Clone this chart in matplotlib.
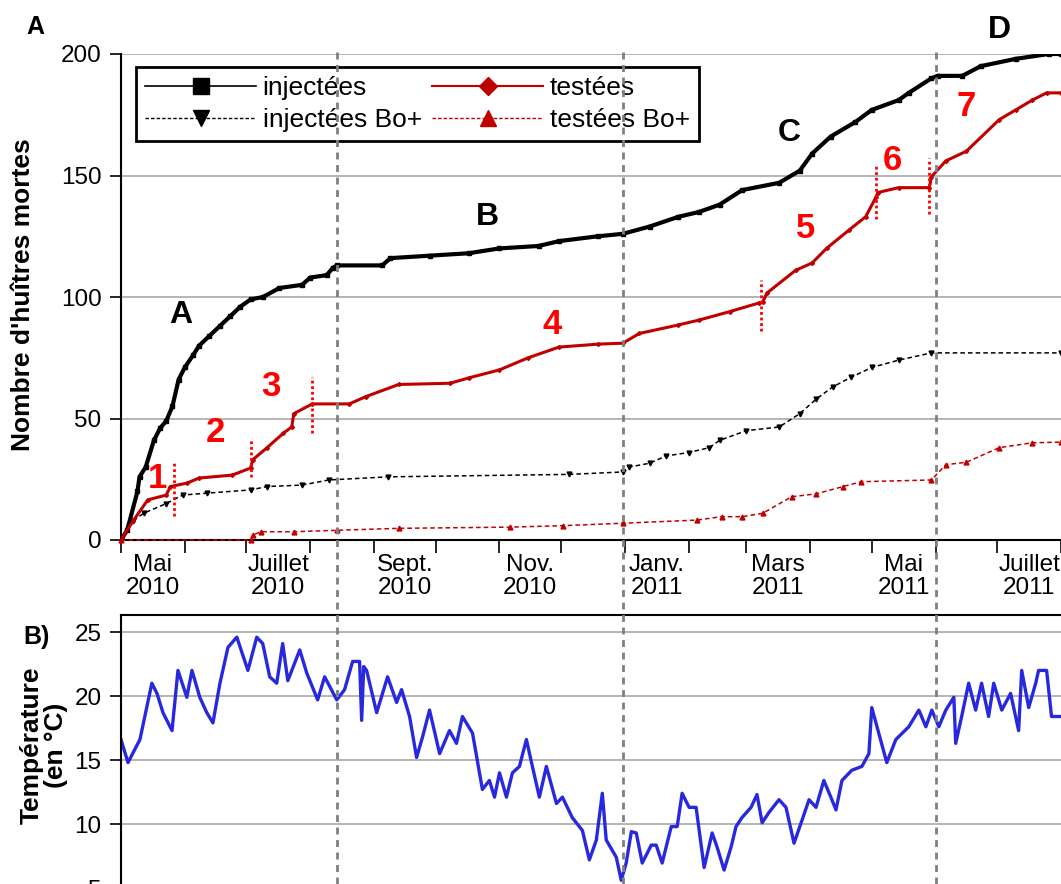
import pandas as pd
import matplotlib
matplotlib.use("Agg")
import matplotlib.pyplot as plt
import matplotlib.dates as mdates
from matplotlib.lines import Line2D
from matplotlib.ticker import FixedLocator, NullFormatter
from matplotlib.transforms import blended_transform_factory

plt.rcParams['font.family'] = ['Liberation Sans', 'DejaVu Sans']

START = pd.Timestamp('2010-05-01')
END = pd.Timestamp('2011-08-01')

# cumulative dead oysters (days since 1 May 2010 -> count)
inj_days = [0, 3, 8, 9, 12, 16, 19, 22, 25, 28, 31, 35, 38, 43, 48, 53, 58, 63,
            69, 77, 88, 92, 100, 103, 105, 127, 131, 150, 169, 184, 203, 213,
            232, 244, 257, 271, 281, 291, 302, 320, 330, 336, 345, 357, 365,
            378, 383, 394, 397, 409, 418, 435, 451, 457]
inj_vals = [0, 4, 20, 26, 30, 41, 46, 49, 55, 66, 71, 76, 80, 84, 88, 92, 96, 99,
            100, 103.7, 105, 108, 109, 112, 113, 113, 116, 117, 118, 120, 121, 123,
            125, 126, 129, 133, 135, 138, 144, 147, 152, 159, 166, 172, 177,
            181, 184, 190, 191, 191, 195, 198, 200, 200]

tes_days = [0, 6, 13, 22, 24, 32, 38, 54, 63, 64, 71, 79, 83, 84, 93, 111, 119,
            135, 160, 169, 184, 198, 213, 232, 244, 252, 271, 281, 296, 310, 312,
            314, 328, 336, 343, 354, 362, 367, 368, 378, 393, 394, 401, 411, 427,
            435, 443, 450, 457]
tes_vals = [0, 8, 16.5, 18.5, 22, 23.4, 25.5, 26.7, 29.6, 33, 38, 44, 46.5, 52, 56, 56, 59,
            64, 64.5, 66.7, 70, 75, 79.4, 80.6, 81, 85, 88.5, 90.5, 94, 97.5, 98,
            101.6, 111, 114, 120, 127.6, 133, 141, 143, 145, 145, 149.5, 156, 160, 173,
            177, 181, 184, 184]

injbo_days = [0, 6, 11, 22, 30, 42, 63, 71, 88, 101, 130, 218, 244, 247, 257, 265,
              276, 286, 291, 304, 320, 330, 338, 346, 355, 365, 378, 394, 457]
injbo_vals = [0, 8, 11, 15, 18.5, 19.3, 20.6, 22, 22.6, 24.7, 26, 27, 28, 30, 31.6, 34.6,
              36, 38, 41, 45, 46.5, 52, 58, 63, 67, 71, 74, 77, 77]

tesbo_days = [0, 63, 64, 68, 84, 105, 135, 189, 215, 244, 280, 292, 302, 312, 326,
              338, 351, 360, 394, 401, 411, 427, 443, 457]
tesbo_vals = [0, 0, 2, 3.4, 3.4, 4, 4.8, 5.3, 5.9, 6.9, 8.2, 9.6, 9.6, 11, 17.8,
              19, 22, 24, 24.7, 31, 32, 38, 40, 40.3]

# water temperature (days since 1 May 2010 -> deg C)
temp_days = [0, 3.4, 9.2, 15.0, 17.5, 20.4, 24.8, 27.7, 32.0, 34.5, 38.3, 41.7, 44.7,
             48.1, 52.0, 56.3, 61.7, 66.0, 68.9, 72.3, 75.7, 78.6, 81.1, 86.9, 90.3,
             95.6, 99.0, 104.9, 108.7, 112.6, 116.0, 117.0, 118.0, 119.4, 124.3, 129.6,
             134.0, 136.4, 140.3, 143.7, 146.6, 150.0, 154.9, 159.7, 163.1, 166.0, 170.9,
             175.7, 179.1, 181.6, 184.0, 187.4, 190.3, 193.7, 197.1, 200.0, 203.4, 206.8,
             211.7, 214.6, 219.4, 224.3, 227.7, 231.1, 234.0, 235.9, 240.8, 243.2, 245.6,
             248.1, 250.5, 253.4, 257.8, 260.2, 263.1, 267.5, 270.4, 272.8, 276.2, 279.6,
             283.5, 287.4, 289.8, 293.2, 296.6, 299.0, 301.9, 306.3, 309.2, 311.7, 315.0,
             319.9, 323.3, 327.2, 331.1, 334.5, 337.9, 341.7, 345.1, 347.6, 350.5, 355.3,
             360.2, 363.6, 365.0, 368.4, 372.3, 376.7, 383.0, 387.9, 391.3, 394.2, 397.6,
             401.0, 404.9, 405.8, 408.7, 412.1, 415.5, 418.4, 421.8, 424.3, 428.2, 432.5,
             436.4, 437.9, 441.3, 444.7, 446.1, 450.0, 452.4, 457.0]
temp_vals = [16.6, 14.8, 16.6, 21, 20.2, 18.7, 17.3, 22, 19.9, 22, 19.9, 18.7, 17.9,
             21, 23.8, 24.6, 22, 24.6, 24.1, 21.5, 21, 24.1, 21.2, 23.6, 21.8,
             19.7, 21.5, 19.7, 20.5, 22.7, 22.7, 18.1, 22.3, 22, 18.7, 21.5,
             19.5, 20.5, 18.4, 15.2, 16.8, 18.9, 15.5, 17.3, 16.3, 18.4, 17.1,
             12.7, 13.4, 12.1, 14, 12.1, 14, 14.5, 16.6, 14.5, 12.1, 14.5,
             11.6, 12.1, 10.5, 9.5, 7.2, 8.75, 12.4, 8.75, 7.4, 5.6, 6.95,
             9.4, 9.3, 6.95, 8.35, 8.35, 6.95, 9.8, 9.8, 12.4, 11.3, 11.3,
             6.6, 9.3, 8.2, 6.4, 8.2, 9.8, 10.5, 11.3, 12.3, 10.1, 10.9,
             11.9, 11.3, 8.5, 10.3, 11.9, 11.3, 13.4, 12.1, 11.1, 13.4, 14.2,
             14.5, 15.5, 19.1, 17.1, 14.8, 16.6, 17.6, 18.9, 17.6, 18.9, 17.6,
             18.9, 19.9, 16.3, 18.4, 21, 18.9, 21, 18.4, 21, 18.9, 20.2,
             17.3, 22, 19.1, 21, 22, 22, 18.4, 18.4]

month_labels = ['Mai\n2010', 'Juillet\n2010', 'Sept.\n2010', 'Nov.\n2010',
                'Janv.\n2011', 'Mars\n2011', 'Mai\n2011', 'Juillet\n2011']
label_months = ['2010-05', '2010-07', '2010-09', '2010-11',
                '2011-01', '2011-03', '2011-05', '2011-07']

period_ends = [105, 244, 396]  # grey dashed lines A|B|C|D
phase_marks = [(26, 10, 32), (63, 26, 42), (93, 44, 67),
               (311, 86, 107), (367, 132, 154), (393, 134, 157)]


def to_dates(days):
    return START + pd.to_timedelta(days, unit='D')


W, H = 1061, 884
fig = plt.figure(figsize=(W / 100, H / 100), dpi=100)


def box(x0, y0, x1, y1):
    return [x0 / W, 1 - y1 / H, (x1 - x0) / W, (y1 - y0) / H]


ax1 = fig.add_axes(box(121, 54, 1061, 540))
ax2 = fig.add_axes(box(121, 615, 1061, 952))

dark_red = '#C00000'
ax1.plot(to_dates(injbo_days), injbo_vals, color='k', lw=1.1, ls=(0, (3, 2)),
         marker='v', ms=3.5, zorder=3)
ax1.plot(to_dates(tesbo_days), tesbo_vals, color=dark_red, lw=1.1, ls=(0, (3, 2)),
         marker='^', ms=3.5, zorder=3, clip_on=False)
ax1.plot(to_dates(inj_days), inj_vals, color='k', lw=3.0, marker='s', ms=2.5, zorder=4)
ax1.plot(to_dates(tes_days), tes_vals, color=dark_red, lw=2.2, marker='D', ms=2, zorder=4)

for d, lo, hi in phase_marks:
    ax1.vlines(to_dates([d])[0], lo, hi, colors='#FF0000', linestyles=(0, (1, 1)),
               lw=2, zorder=5)

# labels of the phases
for txt, d, v in [('1', 17.5, 25.5), ('2', 45.7, 44.4), ('3', 73, 63), ('4', 209.5, 88.5),
                  ('5', 333, 128), ('6', 375, 156), ('7', 411, 178.6)]:
    ax1.text(to_dates([d])[0], v, txt, color='#FF0000', fontsize=25, fontweight='bold',
             ha='center', va='center')
for txt, d, v in [('A', 29, 92.6), ('B', 178, 133), ('C', 325, 167.5), ('D', 427, 210)]:
    ax1.text(to_dates([d])[0], v, txt, color='k', fontsize=23, fontweight='bold',
             ha='center', va='center', clip_on=False)

ax1.set_xlim(START, END)
ax1.set_ylim(0, 200)
ax1.set_yticks([0, 50, 100, 150, 200])
ax1.grid(axis='y', color='#a8a8a8', lw=1.2)
ax1.set_axisbelow(True)
for s in ['top', 'right']:
    ax1.spines[s].set_visible(False)
for s in ['left', 'bottom']:
    ax1.spines[s].set_linewidth(1.5)
ax1.tick_params(axis='y', labelsize=17.5, length=8, width=1.2, pad=6)

mids = []
for m in label_months:
    p = pd.Period(m, freq='M')
    mids.append(p.start_time + pd.Timedelta(days=p.days_in_month / 2))
ax1.xaxis.set_major_locator(FixedLocator(mdates.date2num(mids)))
ax1.set_xticklabels(month_labels)
ax1.xaxis.set_minor_locator(mdates.MonthLocator())
ax1.xaxis.set_minor_formatter(NullFormatter())
ax1.tick_params(axis='x', which='major', length=0, labelsize=17.5, pad=10)
ax1.tick_params(axis='x', which='minor', length=9, width=1.2)
for t in ax1.get_xticklabels():
    t.set_linespacing(1.05)

fig.text(23 / W, 1 - 295 / H, "Nombre d'huîtres mortes", rotation=90, fontsize=19,
         fontweight='bold', ha='center', va='center')

handles = [
    Line2D([], [], color='k', lw=1.2, marker='s', ms=11, label='injectées'),
    Line2D([], [], color='k', lw=1.0, ls=(0, (2.5, 1.5)), marker='v', ms=11,
           label='injectées Bo+'),
    Line2D([], [], color=dark_red, lw=1.5, marker='D', ms=9, label='testées'),
    Line2D([], [], color=dark_red, lw=1.0, ls=(0, (2.5, 1.5)), marker='^', ms=11,
           label='testées Bo+'),
]
leg = fig.legend(handles=handles, ncol=2, loc='upper left',
                 bbox_to_anchor=(136 / W, 1 - 67 / H), borderaxespad=0,
                 fontsize=19, handlelength=4.2, handletextpad=0.25,
                 columnspacing=0.4, labelspacing=0.3, borderpad=0.35,
                 fancybox=False, framealpha=1, edgecolor='k')
leg.get_frame().set_linewidth(2)

# temperature panel
ax2.plot(to_dates(temp_days), temp_vals, color='#2828DC', lw=2.4)
ax2.set_xlim(START, END)
ax2.set_ylim(0, 26.33)
ax2.set_yticks([5, 10, 15, 20, 25])
ax2.set_xticks([])
ax2.grid(axis='y', color='#a8a8a8', lw=1.2)
ax2.set_axisbelow(True)
for s in ['right', 'bottom']:
    ax2.spines[s].set_visible(False)
for s in ['left', 'top']:
    ax2.spines[s].set_linewidth(1.5)
ax2.tick_params(axis='y', labelsize=17.5, length=8, width=1.2, pad=6)
fig.text(44 / W, 1 - 745 / H, 'Température\n(en °C)', rotation=90, fontsize=19,
         fontweight='bold', ha='center', va='center', linespacing=1.0)

# grey dashed separators running through both panels
tr = blended_transform_factory(ax1.transData, fig.transFigure)
for d in period_ends:
    x = mdates.date2num(to_dates([d])[0])
    fig.add_artist(Line2D([x, x], [0, 1 - 47 / H], transform=tr, color='#808080',
                          lw=2, ls=(0, (2.5, 2)), zorder=6))

fig.text(35 / W, 1 - 27 / H, 'A', fontsize=18, fontweight='bold', ha='center', va='center')
fig.text(37 / W, 1 - 637 / H, 'B)', fontsize=18, fontweight='bold', ha='center', va='center')

fig.savefig('out.png', dpi=100)
